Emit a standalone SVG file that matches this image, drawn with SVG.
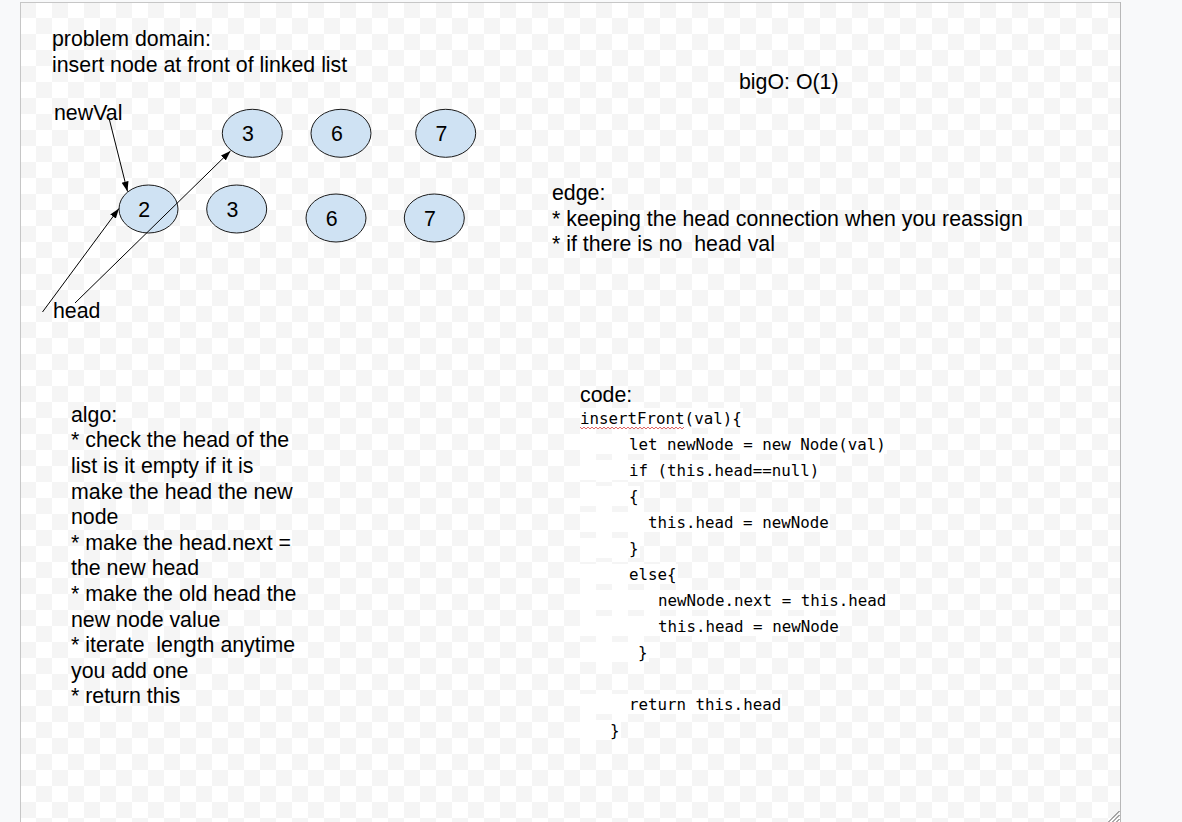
<svg xmlns="http://www.w3.org/2000/svg" width="1182" height="822" viewBox="0 0 1182 822">
  <defs>
    <pattern id="checker" x="20" y="2" width="32" height="32" patternUnits="userSpaceOnUse">
      <rect x="0" y="0" width="32" height="32" fill="#ffffff"/>
      <rect x="0" y="0" width="16" height="16" fill="#f5f5f5"/>
      <rect x="16" y="16" width="16" height="16" fill="#f5f5f5"/>
    </pattern>
    <marker id="arrow" markerWidth="11" markerHeight="8" refX="10" refY="3.5" orient="auto" markerUnits="userSpaceOnUse">
      <path d="M0,0 L10,3.5 L0,7 z" fill="#000000"/>
    </marker>
    <style>
      .txt { font-family: "Liberation Sans", Arial, sans-serif; font-size: 21.33px; fill: #000000; white-space: pre; }
      .num { font-family: "Liberation Sans", Arial, sans-serif; font-size: 21.33px; fill: #000000; text-anchor: middle; }
      .code { font-family: "DejaVu Sans Mono", "Liberation Mono", monospace; font-size: 15.8px; fill: #000000; white-space: pre; }
      .node { fill: #cfe2f3; stroke: #1a1a1a; stroke-width: 1; }
      .conn { stroke: #000000; stroke-width: 1; fill: none; marker-end: url(#arrow); }
      .hl { fill: #ffffff; }
    </style>
  </defs>

  <!-- outer background -->
  <rect x="0" y="0" width="1182" height="822" fill="#f8f9fa"/>
  <!-- page -->
  <rect x="20" y="2" width="1100" height="822" fill="url(#checker)"/>
  <line x1="20.5" y1="2" x2="20.5" y2="822" stroke="#c6c6c6" stroke-width="1"/>
  <line x1="20" y1="2.5" x2="1121" y2="2.5" stroke="#c6c6c6" stroke-width="1"/>
  <line x1="1120.5" y1="2" x2="1120.5" y2="822" stroke="#b8b8b8" stroke-width="1"/>

  <!-- headings / notes -->
  <g id="problem-domain">
    <text class="txt" x="52" y="46">problem domain:</text>
    <text class="txt" x="52" y="72">insert node at front of linked list</text>
  </g>
  <g id="label-newval">
    <text class="txt" x="54" y="120">newVal</text>
  </g>
  <g id="label-head">
    <text class="txt" x="53" y="318">head</text>
  </g>
  <g id="bigo">
    <text class="txt" x="739" y="89">bigO: O(1)</text>
  </g>
  <g id="edge">
    <text class="txt" x="552" y="199.5">edge:</text>
    <text class="txt" x="552" y="225.5">* keeping the head connection when you reassign</text>
    <text class="txt" x="552" y="251" xml:space="preserve">* if there is no  head val</text>
  </g>

  <!-- nodes: top row -->
  <g id="node-top-3">
    <ellipse class="node" cx="252.3" cy="133.3" rx="30" ry="24"/>
    <text class="num" x="248" y="140.8">3</text>
  </g>
  <g id="node-top-6">
    <ellipse class="node" cx="341" cy="133.3" rx="30" ry="24"/>
    <text class="num" x="337" y="140.8">6</text>
  </g>
  <g id="node-top-7">
    <ellipse class="node" cx="445.7" cy="133.3" rx="30" ry="24"/>
    <text class="num" x="441.5" y="140.8">7</text>
  </g>
  <!-- nodes: bottom row -->
  <g id="node-bottom-2">
    <ellipse class="node" cx="148.5" cy="209" rx="29.5" ry="24"/>
    <text class="num" x="144.3" y="216.7">2</text>
  </g>
  <g id="node-bottom-3">
    <ellipse class="node" cx="236.7" cy="209" rx="30" ry="24"/>
    <text class="num" x="232.5" y="216.7">3</text>
  </g>
  <g id="node-bottom-6">
    <ellipse class="node" cx="336" cy="218" rx="30" ry="24"/>
    <text class="num" x="331.8" y="226">6</text>
  </g>
  <g id="node-bottom-7">
    <ellipse class="node" cx="434.3" cy="218" rx="30" ry="24"/>
    <text class="num" x="430" y="226">7</text>
  </g>

  <!-- connectors -->
  <g id="connectors">
    <line class="conn" x1="109" y1="118" x2="127.5" y2="191.5"/>
    <line class="conn" x1="42.5" y1="312" x2="119" y2="208.5"/>
    <line class="conn" x1="75" y1="303" x2="230.5" y2="151"/>
  </g>

  <!-- algo -->
  <g id="algo">
    <text class="txt" x="71" y="421.7">algo:</text>
    <text class="txt" x="71" y="447.3">* check the head of the</text>
    <text class="txt" x="71" y="472.9">list is it empty if it is</text>
    <text class="txt" x="71" y="498.5">make the head the new</text>
    <text class="txt" x="71" y="524.1">node</text>
    <text class="txt" x="71" y="549.7">* make the head.next =</text>
    <text class="txt" x="71" y="575.3">the new head</text>
    <text class="txt" x="71" y="600.9">* make the old head the</text>
    <text class="txt" x="71" y="626.5">new node value</text>
    <text class="txt" x="71" y="652.1" xml:space="preserve">* iterate  length anytime</text>
    <text class="txt" x="71" y="677.7">you add one</text>
    <text class="txt" x="71" y="703.3">* return this</text>
  </g>

  <!-- code -->
  <g id="code">
    <text class="txt" x="580" y="402">code:</text>
    <rect class="hl" x="580" y="408" width="163" height="20"/>
    <rect class="hl" x="580" y="434" width="307" height="20"/>
    <rect class="hl" x="580" y="460" width="240" height="20"/>
    <rect class="hl" x="580" y="486" width="60" height="20"/>
    <rect class="hl" x="580" y="512" width="250" height="20"/>
    <rect class="hl" x="580" y="538" width="60" height="20"/>
    <rect class="hl" x="580" y="564" width="98" height="20"/>
    <rect class="hl" x="580" y="590" width="307" height="20"/>
    <rect class="hl" x="580" y="616" width="260" height="20"/>
    <rect class="hl" x="580" y="642" width="69" height="20"/>
    <rect class="hl" x="580" y="694" width="202" height="20"/>
    <rect class="hl" x="580" y="720" width="41" height="20"/>
    <text class="code" x="580" y="424">insertFront(val){</text>
    <polyline points="580,427 582,429 584,427 586,429 588,427 590,429 592,427 594,429 596,427 598,429 600,427 602,429 604,427 606,429 608,427 610,429 612,427 614,429 616,427 618,429 620,427 622,429 624,427 626,429 628,427 630,429 632,427 634,429 636,427 638,429 640,427 642,429 644,427 646,429 648,427 650,429 652,427 654,429 656,427 658,429 660,427 662,429 664,427 666,429 668,427 670,429 672,427 674,429 676,427 678,429 680,427 682,429 684,427" fill="none" stroke="#e06666" stroke-width="1"/>
    <text class="code" x="629" y="450">let newNode = new Node(val)</text>
    <text class="code" x="629" y="476">if (this.head==null)</text>
    <text class="code" x="629" y="502">{</text>
    <text class="code" x="648" y="528">this.head = newNode</text>
    <text class="code" x="629" y="554">}</text>
    <text class="code" x="629" y="580">else{</text>
    <text class="code" x="658" y="606">newNode.next = this.head</text>
    <text class="code" x="658" y="632">this.head = newNode</text>
    <text class="code" x="638" y="658">}</text>
    <text class="code" x="629" y="710">return this.head</text>
    <text class="code" x="610" y="736">}</text>
  </g>

  <!-- resize grip -->
  <g id="grip" stroke="#555555" stroke-width="1">
    <line x1="1119.5" y1="811" x2="1108.5" y2="822"/>
    <line x1="1119.5" y1="815" x2="1112.5" y2="822"/>
    <line x1="1119.5" y1="819" x2="1116.5" y2="822"/>
  </g>
</svg>
